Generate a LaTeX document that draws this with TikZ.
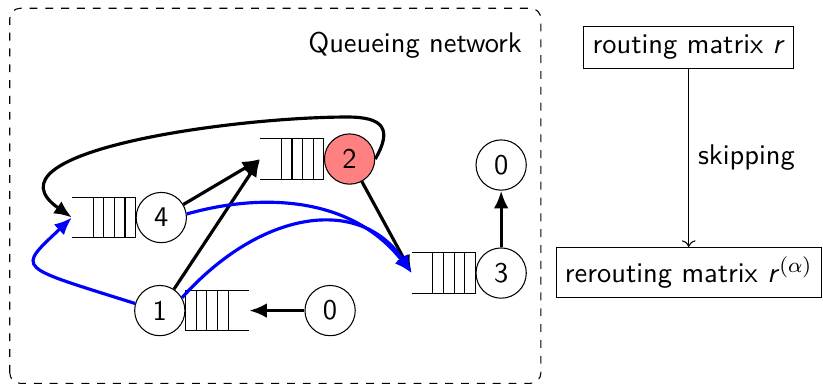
\documentclass[tikz,border=0pt]{standalone}
\usepackage{amsmath, amssymb}
\usepackage{xcolor}
\usepackage{tikz}
\usetikzlibrary{arrows.meta, positioning}

\tikzset{
  station/.style={circle, draw, minimum size=0.67cm, inner sep=0pt},
  flow/.style={very thick, -{Latex[length=6.7pt, width=5.6pt]}},
  reflow/.style={flow, blue},
  matbox/.style={draw},
}

\begin{document}
\begin{tikzpicture}[font=\sffamily\fontsize{10.8}{13}\selectfont]
\useasboundingbox (0,0) rectangle (10.97,5.15);
\draw[dashed, rounded corners=4pt] (0.13,0.04) rectangle (7.21,5.04);
\node[anchor=east] (title) at (7.08,4.55) {Queueing network};

\node[station] (n4) at (2.15,2.25) {4};
\node[station, fill=red!50] (n2) at (4.66,3.03) {2};
\node[station] (n1) at (2.13,1.01) {1};
\node[station] (n3) at (6.68,1.51) {3};
\node[station] (src) at (4.40,1.01) {0};
\node[station] (sink) at (6.68,2.95) {0};

% buffers, \s gives the side
\foreach \n/\a/\s in {4/west/-1, 2/west/-1, 3/west/-1, 1/east/1}{
  \draw ([shift={(0.85*\s,0.27)}]n\n.\a) -- ([shift={(0,0.27)}]n\n.\a) -- ([shift={(0,-0.27)}]n\n.\a) -- ([shift={(0.85*\s,-0.27)}]n\n.\a);
  \foreach \i in {1,...,4}
    \draw ([shift={(0.142*\i*\s,0.27)}]n\n.\a) -- ([shift={(0.142*\i*\s,-0.27)}]n\n.\a);
  \coordinate (q\n) at ([shift={(0.85*\s,0)}]n\n.\a);
}

\draw[flow] (n4) -- (q2);
\draw[flow] (n1) -- (q2);
\draw[flow] (n2) -- (q3);
\draw[flow] (n2.east) to[out=60,in=0,looseness=1.8] (4.63,3.59) to[out=180,in=145] (q4);
\draw[flow] (src) -- (q1);
\draw[flow] (n3) -- (sink);

% rerouted
\draw[reflow] (n1.164) .. controls (0.2,1.61) and (0.22,1.55) .. (q4);
\draw[reflow] (n4.8) .. controls (3.6,2.61) and (4.73,2.48) .. (q3);
\draw[reflow] (n1.30) .. controls (3.47,2.35) and (4.8,2.55) .. (q3);

\node[matbox] (rt) at (9.18,4.52) {routing matrix \textit{r}};
\node[matbox] (rr) at (9.18,1.52) {rerouting matrix \textit{r}$^{(\alpha)}$};
\draw[->] (rt) -- node[right] {skipping} (rr);
\end{tikzpicture}
\end{document}
